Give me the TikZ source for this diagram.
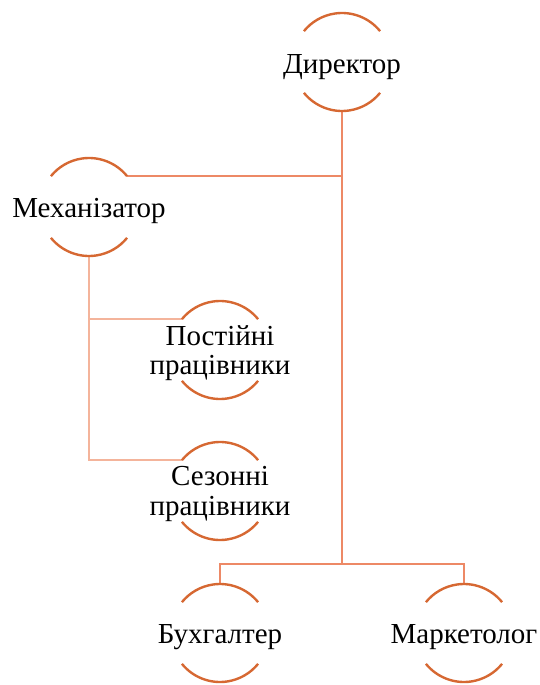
\documentclass[tikz,border=0pt]{standalone}
\usepackage{fontspec}
\setmainfont{Liberation Serif}
\definecolor{arcc}{RGB}{214,104,50}
\definecolor{lineA}{RGB}{237,137,102}
\definecolor{lineB}{RGB}{244,180,155}
\begin{document}
\begin{tikzpicture}[x=1pt,y=1pt,
  ring/.style={circle,minimum size=98pt,inner sep=0pt,outer sep=0pt},
  txt/.style={inner sep=0pt,align=center,font=\fontsize{29}{29.5}\selectfont},
  arcst/.style={draw=arcc,line width=2.4pt},
  lA/.style={draw=lineA,line width=2.6pt},
  lB/.style={draw=lineB,line width=2.6pt}]
\useasboundingbox (0,0) rectangle (540,-685);
\node[ring] (d) at (342,-62) {};
\node[ring] (m) at (89,-207) {};
\node[ring] (p) at (220,-350) {};
\node[ring] (s) at (220,-491) {};
\node[ring] (b) at (220,-633) {};
\node[ring] (k) at (464,-633) {};
\node[txt,yshift=-5pt] (dt) at (d) {Директор};
\node[txt,yshift=-4pt] (mt) at (m) {Механізатор};
\node[txt,yshift=-3pt] (pt) at (p) {Постійні\\працівники};
\node[txt,yshift=-3pt] (st) at (s) {Сезонні\\працівники};
\node[txt,yshift=-4pt] (bt) at (b) {Бухгалтер};
\node[txt,yshift=-4pt] (kt) at (k) {Маркетолог};
\coordinate (j) at (342,-564);
% connectors
\draw[lA] (d.south) -- (j);
\draw[lA] (m.39) -- (m.39 -| d.south);
\draw[lA] (b.north) -- (b.north |- j) -- (k.north |- j) -- (k.north);
\draw[lB] (m.south) |- (s.141);
\draw[lB] (m.south |- p.141) -- (p.141);
% arcs
\foreach \n in {d,m,p,s,b,k}{
  \draw[arcst] (\n.39) arc[start angle=39,end angle=141,radius=49pt];
  \draw[arcst] (\n.219) arc[start angle=219,end angle=321,radius=49pt];
}
\end{tikzpicture}
\end{document}
